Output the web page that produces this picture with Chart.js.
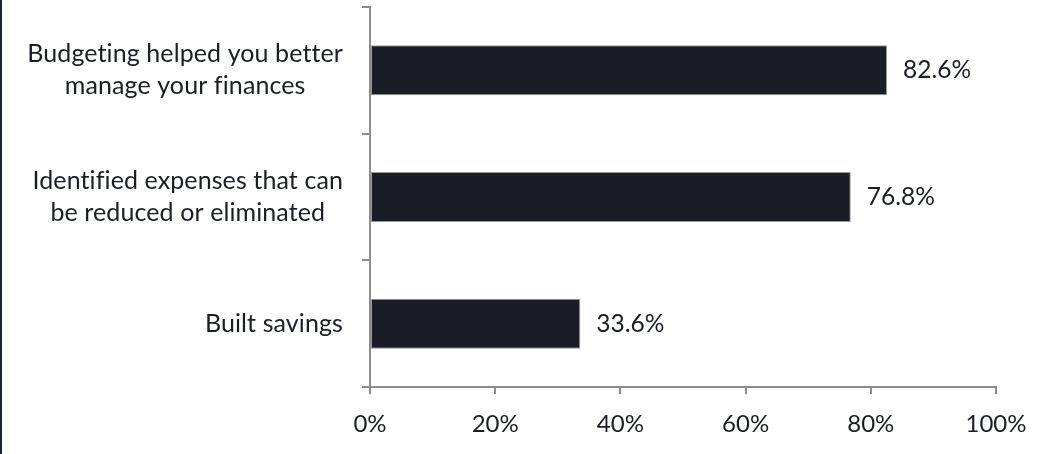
<!DOCTYPE html>
<html>
<head>
<meta charset="utf-8">
<script src="https://cdn.jsdelivr.net/npm/chart.js@4"></script>
<style>
  html, body { margin: 0; padding: 0; background: #fff; }
  #wrap { width: 1039px; height: 454px; position: relative; }
</style>
</head>
<body>
<div id="wrap"><canvas id="chart"></canvas></div>
<script>
// ---- Data ----
var CATEGORIES = [
  ["Budgeting helped you better", "manage your finances"],
  ["Identified expenses that can", "be reduced or eliminated"],
  ["Built savings"],
];
var VALUES = [82.6, 76.8, 33.6];
var X_TICKS = [0, 20, 40, 60, 80, 100];

var INK = "#1a1d25";
var AXIS = "#8c8c8c";
var FONT = "Lato, 'Open Sans', sans-serif";

// Category labels: block right-aligned against the axis, lines centered inside it
var categoryLabels = {
  id: "categoryLabels",
  afterDraw: function(chart) {
    var ctx = chart.ctx;
    var y = chart.scales.y;
    var right = y.right - 27;
    var lh = 32;
    ctx.save();
    ctx.font = "25px " + FONT;
    if ("letterSpacing" in ctx) ctx.letterSpacing = "0.1px"; // keeps "ti" from ligating
    ctx.fillStyle = INK;
    ctx.textAlign = "center";
    ctx.textBaseline = "middle";
    CATEGORIES.forEach(function(lines, i) {
      var cy = y.getPixelForValue(i);
      var w = Math.max.apply(null, lines.map(function(s) { return ctx.measureText(s).width; }));
      lines.forEach(function(s, j) {
        ctx.fillText(s, right - w / 2, cy + (j - (lines.length - 1) / 2) * lh);
      });
    });
    ctx.restore();
  },
};

// Value labels just past the end of each bar
var valueLabels = {
  id: "valueLabels",
  afterDatasetsDraw: function(chart) {
    var ctx = chart.ctx;
    var meta = chart.getDatasetMeta(0);
    ctx.save();
    ctx.font = "24.5px " + FONT;
    ctx.fillStyle = INK;
    ctx.textAlign = "left";
    ctx.textBaseline = "middle";
    meta.data.forEach(function(bar, i) {
      ctx.fillText(VALUES[i].toFixed(1) + "%", bar.x + 16, bar.y);
    });
    ctx.restore();
  },
};

// White page with the dark frame edge on the left
var frame = {
  id: "frame",
  beforeDraw: function(chart) {
    var ctx = chart.ctx;
    ctx.save();
    ctx.fillStyle = "#fff";
    ctx.fillRect(0, 0, chart.width, chart.height);
    ctx.fillStyle = "#1c2230";
    ctx.fillRect(0, 0, 2, chart.height);
    ctx.restore();
  },
};

new Chart(document.getElementById("chart"), {
  type: "bar",
  data: {
    labels: CATEGORIES,
    datasets: [{
      data:            VALUES,
      backgroundColor: INK,
      borderColor:     "#9a9a9a",
      borderWidth:     1,
      borderSkipped:   false,
      barPercentage:   0.395,
      categoryPercentage: 1,
    }],
  },
  options: {
    indexAxis: "y",
    responsive: true,
    maintainAspectRatio: false,
    animation: false,
    layout: { padding: { top: 7, right: 43, left: 0, bottom: 0 } },
    plugins: {
      legend:  { display: false },
      tooltip: { enabled: false },
    },
    scales: {
      x: {
        min: 0,
        max: 100,
        afterBuildTicks: function(scale) {
          scale.ticks = X_TICKS.map(function(v) { return { value: v }; });
        },
        afterFit: function(scale) {
          scale.height = 67;
          // the layout padding already leaves room for the end labels
          scale.paddingLeft = 0;
          scale.paddingRight = 0;
        },
        border: { color: AXIS, width: 2 },
        grid: { drawOnChartArea: false, drawTicks: true, tickLength: 7, color: AXIS, lineWidth: 2 },
        ticks: {
          color: INK,
          font: { family: FONT, size: 24 },
          padding: 16,
          maxRotation: 0,
          callback: function(v) { return v + "%"; },
        },
      },
      y: {
        offset: true,
        afterFit: function(scale) { scale.width = 370; },
        border: { color: AXIS, width: 2 },
        grid: { offset: true, drawOnChartArea: false, drawTicks: true, tickLength: 8, color: AXIS, lineWidth: 2 },
        ticks: { display: false },
      },
    },
  },
  plugins: [frame, categoryLabels, valueLabels],
});
</script>
</body>
</html>
